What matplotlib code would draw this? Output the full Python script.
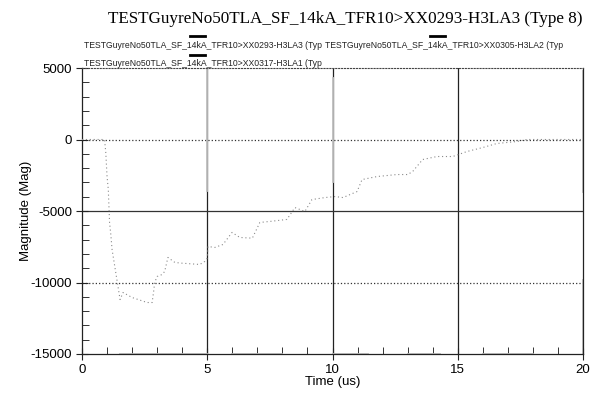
import matplotlib
matplotlib.use("Agg")
import matplotlib.pyplot as plt
import numpy as np
from matplotlib.lines import Line2D

plt.rcParams["axes.unicode_minus"] = False

# ---- data ----
title = "TESTGuyreNo50TLA_SF_14kA_TFR10>XX0293-H3LA3 (Type 8)"
legend_labels = [
    "TESTGuyreNo50TLA_SF_14kA_TFR10>XX0293-H3LA3 (Typ",
    "TESTGuyreNo50TLA_SF_14kA_TFR10>XX0305-H3LA2 (Typ",
    "TESTGuyreNo50TLA_SF_14kA_TFR10>XX0317-H3LA1 (Typ",
]
x_label = "Time (us)"
y_label = "Magnitude (Mag)"
x_ticks = [0, 5, 10, 15, 20]
y_ticks = [5000, 0, -5000, -10000, -15000]

# main trace (XX0293-H3LA3)
t_main = [0, 0.5, 0.9, 0.95, 1.0, 1.05, 1.1, 1.15, 1.2, 1.52, 1.64, 2.0, 2.24, 2.6, 2.8,
          2.87, 2.9, 3.0, 3.2, 3.3, 3.43, 3.71, 4.0, 4.4, 4.7, 4.9, 5.0, 5.03, 5.3,
          5.63, 5.99, 6.3, 6.8, 7.1, 7.5, 8.18, 8.5, 8.9, 9.18, 9.7, 10.1, 10.42,
          10.98, 11.18, 11.78, 12.57, 13.0, 13.2, 13.6, 14.17, 14.8, 15.37, 16.0,
          16.56, 17.36, 17.76, 18.5, 20]
m_main = [0, 0, 0, -930, -2590, -3500, -5800, -6640, -7690, -11190, -10700, -11050,
          -11190, -11400, -11400, -10490, -10000, -9580, -9440, -9230, -8250, -8600,
          -8650, -8700, -8740, -8530, -8300, -7480, -7550, -7340, -6500, -6850, -6900,
          -5800, -5730, -5590, -4760, -5030, -4200, -4060, -3990, -4060, -3640, -2800,
          -2590, -2450, -2450, -2240, -1400, -1190, -1190, -840, -560, -280, -140, 0,
          0, 0]

# other traces, mostly hidden behind the frame (NaN = gap)
t_other = [5, 5, np.nan, 10, 10, np.nan, 20, 20, np.nan, 20, 20, np.nan,
           1.5, 5, np.nan, 6, 8, np.nan, 10, 11.4, np.nan, 13, 14.3, np.nan, 16, 18]
m_other = [5000, -3600, np.nan, 4300, -3000, np.nan, 4800, -3700, np.nan, -9800, -15000, np.nan,
           -15000, -15000, np.nan, -15000, -15000, np.nan, -15000, -15000, np.nan,
           -15000, -15000, np.nan, -15000, -15000]

# ---- figure ----
fig = plt.figure(figsize=(5.99, 3.94), dpi=100)
ax = fig.add_axes([82/599, 1-354/394, (583-82)/599, (354-68)/394])

ax.set_xlim(0, 20)
ax.set_ylim(-15000, 5000)

# grid
for xv in x_ticks[1:-1]:
    ax.axvline(xv, color="#222222", lw=0.9, zorder=1)
for yv, ls in zip(y_ticks[1:-1], [":", "-", ":"]):
    ax.axhline(yv, color="#333333", lw=0.9, ls=ls, zorder=1)

ax.plot(t_other, m_other, color="#c0c0c0", lw=1.3, zorder=2)
ax.plot(t_main, m_main, color="#8a8a8a", lw=0.8, ls=(0, (1, 2.5)), zorder=3)

for s in ["left", "right", "bottom"]:
    ax.spines[s].set_color("#222222")
    ax.spines[s].set_linewidth(0.9)
ax.spines["top"].set_linestyle(":")
ax.spines["top"].set_color("#444444")

ax.set_xticks(x_ticks)
ax.set_yticks(y_ticks)
ax.set_xticks(np.arange(0, 21, 1), minor=True)
ax.set_yticks(np.arange(-15000, 5001, 1000), minor=True)
ax.tick_params(which="major", direction="inout", length=8, width=0.8, colors="#222222",
               labelsize=9.5, labelcolor="black", pad=3)
ax.tick_params(which="minor", direction="in", length=5, width=0.7, colors="#333333")
ax.tick_params(axis="y", which="both", right=False)
ax.tick_params(axis="x", which="both", top=False)
for lab in ax.get_xticklabels() + ax.get_yticklabels():
    lab.set_fontfamily("Liberation Sans")

ax.set_xlabel(x_label, fontsize=9.5, family="Liberation Sans", labelpad=0)
ax.set_ylabel(y_label, fontsize=9.5, family="Liberation Sans", labelpad=-1)

fig.text(583/599, 1-19/394, title, ha="right", va="center", fontsize=12.3,
         family="Liberation Serif")

# legend (manual layout like the original)
leg_pos = [(84, 46), (325, 46), (84, 64)]
handle_pos = [(190, 205, 36), (430, 445, 36), (190, 205, 55)]
for (px, py), lab in zip(leg_pos, legend_labels):
    fig.text(px/599, 1-py/394, lab, ha="left", va="center", fontsize=6.2,
             family="Liberation Sans", color="#222222")
for x0, x1, py in handle_pos:
    fig.add_artist(Line2D([x0/599, x1/599], [1-py/394, 1-py/394], color="black",
                          lw=2, transform=fig.transFigure))

fig.savefig("out.png", dpi=100)
